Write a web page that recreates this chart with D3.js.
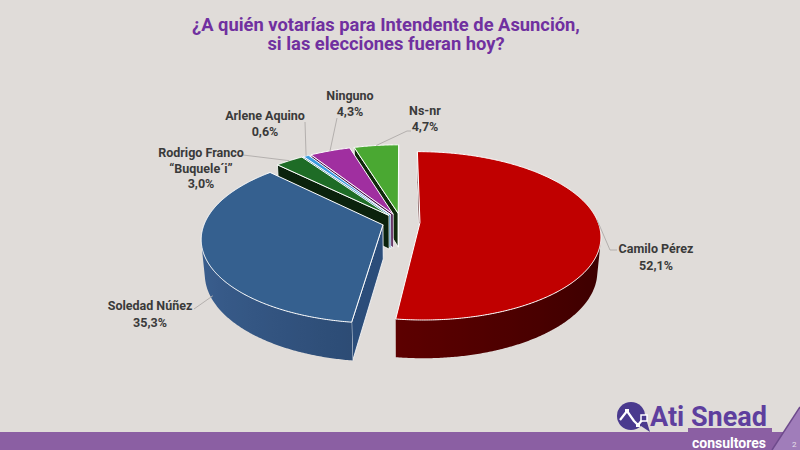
<!DOCTYPE html>
<html><head><meta charset="utf-8">
<script src="https://cdn.jsdelivr.net/npm/d3@7"></script>
<style>html,body{margin:0;padding:0;background:#e0dcd9;}svg{display:block}</style>
</head><body>
<svg id="c" width="800" height="450"></svg>
<script>
// ---------- data ----------
const titleLines = ["¿A quién votarías para Intendente de Asunción,", "si las elecciones fueran hoy?"];
const categories = ["Camilo Pérez", "Soledad Núñez", "Rodrigo Franco “Buquele´i”", "Arlene Aquino", "Ninguno", "Ns-nr"];
const nameLines = [["Camilo Pérez"], ["Soledad Núñez"], ["Rodrigo Franco", "“Buquele´i”"], ["Arlene Aquino"], ["Ninguno"], ["Ns-nr"]];
const values = [52.1, 35.3, 3.0, 0.6, 4.3, 4.7];
const valueLabels = ["52,1%", "35,3%", "3,0%", "0,6%", "4,3%", "4,7%"];
const topColors = ["#c00000", "#35608f", "#1e6c26", "#3c9ce0", "#a02fa0", "#4aa832"];

// ---------- style / layout ----------
const wallLight = ["#760000", "#3a5e8e", "#123a15", "#24679a", "#621c62", "#245a18"];
const wallDark  = ["#3c0000", "#1b3454", "#0a200b", "#174468", "#3e103e", "#143410"];
const faceCol   = ["#3e0000", "#2b4d7a", "#0b220d", "#2878b0", "#4a124a", "#0f2a0a"];
const labelLayout = [
  {x: 656, y: 253, lh: 17, lead: [[610, 250], [617, 250]], shift: -6, depth: 0},
  {x: 150, y: 310, lh: 17, lead: [[194, 309]], shift: -8, depth: 0.85},
  {x: 201, y: 157, lh: 15.5, lead: [[243, 155]], shift: 0, depth: 0},
  {x: 265, y: 120, lh: 16, lead: [[305, 122]], shift: 0, depth: 0},
  {x: 350, y: 100, lh: 15.5, lead: [[337, 118]], shift: 0, depth: 0},
  {x: 425, y: 115, lh: 15.5, lead: [[407, 131], [411, 131]], shift: 0, depth: 0}
];

const W = 800, H = 450;
const svg = d3.select("#c");
const defs = svg.append("defs");
svg.append("rect").attr("width", W).attr("height", H).attr("fill", "#e0dcd9");

// ---------- title ----------
const title = svg.append("g").attr("font-family", "Roboto, 'Open Sans', sans-serif")
  .attr("font-weight", 700).attr("fill", "#7030a0").attr("text-anchor", "middle");
const t1 = title.append("text").attr("x", 386).attr("y", 31).attr("font-size", 16).text(titleLines[0]);
let fs = 16 * 388 / t1.node().getComputedTextLength();
t1.attr("font-size", fs);
title.append("text").attr("x", 386).attr("y", 50).attr("font-size", fs).text(titleLines[1]);

// ---------- 3D pie projection ----------
const cx = 401, cy = 222, R = 178, T = 39, alpha = 27.4 * Math.PI / 180, Dist = 1006, explode = 19;
const sinA = Math.sin(alpha), cosA = Math.cos(alpha);
const camV = Dist * cosA;
function proj(u, v, h) {
  const d = v * cosA + h * sinA;
  const s = Dist / (Dist - d);
  return [cx + u * s, cy + (v * sinA - h * cosA) * s];
}
const arcs = d3.pie().sort(null).value(d => d).startAngle(0).endAngle(2 * Math.PI)(values);
arcs.forEach((a, i) => {
  a.i = i;
  a.mid = (a.startAngle + a.endAngle) / 2;
  a.ou = explode * Math.sin(a.mid);
  a.ov = -explode * Math.cos(a.mid);
  a.depth = a.ov - (R / 2) * Math.cos(a.mid);
});
function pt(a, th, r, h) { return proj(a.ou + r * Math.sin(th), a.ov - r * Math.cos(th), h); }
const line = d3.line();

const pieG = svg.append("g");
const order = arcs.slice().sort((p, q) => p.depth - q.depth);
const step = Math.PI / 360;
order.forEach(a => {
  const g = pieG.append("g");
  const i = a.i;
  // radial faces
  [[a.startAngle, -1], [a.endAngle, 1]].forEach(([th, sgn]) => {
    const nu = sgn * Math.cos(th), nv = sgn * Math.sin(th);
    const vis = nu * (0 - a.ou) + nv * (camV - a.ov);
    if (vis <= 0) return;
    const poly = [pt(a, th, 0, 0), pt(a, th, R, 0), pt(a, th, R, -T), pt(a, th, 0, -T)];
    g.append("path").attr("d", line(poly) + "Z").attr("fill", faceCol[i])
      .attr("stroke", "#ffffff").attr("stroke-width", 0.8).attr("stroke-linejoin", "round");
  });
  // outer wall: runs of front-facing angles, filled with a gradient
  const n = Math.max(2, Math.ceil((a.endAngle - a.startAngle) / step));
  const col = d3.interpolateRgb(wallDark[i], wallLight[i]);
  const isVis = th => {
    const Pu = a.ou + R * Math.sin(th), Pv = a.ov - R * Math.cos(th);
    return Math.sin(th) * (0 - Pu) + (-Math.cos(th)) * (camV - Pv) > 0;
  };
  const runs = [];
  let cur = null;
  for (let k = 0; k <= n; k++) {
    const th = a.startAngle + (a.endAngle - a.startAngle) * k / n;
    if (isVis(th)) { if (!cur) { cur = []; runs.push(cur); } cur.push(th); }
    else cur = null;
  }
  runs.forEach((run, ri) => {
    if (run.length < 2) return;
    const topPts = run.map(th => pt(a, th, R, 0));
    const botPts = run.map(th => pt(a, th, R, -T)).reverse();
    const samples = run.map(th => ({x: pt(a, th, R, 0)[0], c: col(Math.max(0, Math.min(1, 0.5 - 0.5 * Math.sin(th))))}))
      .sort((p, q) => p.x - q.x);
    const x0 = samples[0].x, x1 = samples[samples.length - 1].x;
    const id = "w" + i + "_" + ri;
    const lg = defs.append("linearGradient").attr("id", id).attr("gradientUnits", "userSpaceOnUse")
      .attr("x1", x0).attr("x2", Math.max(x1, x0 + 0.1)).attr("y1", 0).attr("y2", 0);
    samples.filter((s, k) => k % 6 === 0 || k === samples.length - 1).forEach(s => {
      lg.append("stop").attr("offset", (x1 > x0 ? (s.x - x0) / (x1 - x0) : 0)).attr("stop-color", s.c);
    });
    g.append("path").attr("d", line(topPts.concat(botPts)) + "Z").attr("fill", "url(#" + id + ")");
  });
  // top face
  const top = [pt(a, 0, 0, 0)];
  for (let k = 0; k <= n; k++) {
    const th = a.startAngle + (a.endAngle - a.startAngle) * k / n;
    top.push(pt(a, th, R, 0));
  }
  g.append("path").attr("d", line(top) + "Z").attr("fill", topColors[i])
    .attr("stroke", "#ffffff").attr("stroke-width", 1).attr("stroke-linejoin", "round");
});

// ---------- labels ----------
const labG = svg.append("g");
arcs.forEach((a, i) => {
  const L = labelLayout[i];
  const th = a.mid + L.shift * Math.PI / 180;
  const anchor = pt(a, th, R, -L.depth * T);
  const pts = [anchor].concat(L.lead);
  labG.append("path").attr("d", line(pts)).attr("fill", "none").attr("stroke", "#b4b0ae").attr("stroke-width", 1);
  const txt = labG.append("text").attr("text-anchor", "middle")
    .attr("font-family", "Roboto, 'Open Sans', sans-serif").attr("font-weight", 700)
    .attr("font-size", 12.5).attr("fill", "#3a3a3a");
  const lines = nameLines[i].concat([valueLabels[i]]);
  lines.forEach((s, k) => {
    txt.append("tspan").attr("x", L.x).attr("y", L.y + k * L.lh).text(s);
  });
});

// ---------- footer band & logo ----------
const foot = svg.append("g");
foot.append("rect").attr("x", 0).attr("y", 432).attr("width", W).attr("height", 18).attr("fill", "#8b5fa3");
foot.append("rect").attr("x", 688).attr("y", 428).attr("width", 84).attr("height", 6).attr("fill", "#8b5fa3");
foot.append("path").attr("d", "M772,450 L800,407 L800,450 Z").attr("fill", "#a07dba");
foot.append("path").attr("d", "M772,450 L800,407").attr("stroke", "#6e4a8c").attr("stroke-width", 1.5);
foot.append("text").attr("x", 792).attr("y", 447).attr("font-size", 8).attr("fill", "#e6e0ea")
  .attr("font-family", "Roboto, sans-serif").text("2");
// icon
foot.append("path").attr("d", "M638,424 L650,432 L646,419 Z").attr("fill", "#4a3a8e");
foot.append("circle").attr("cx", 631).attr("cy", 416).attr("r", 14).attr("fill", "#4a3a8e");
foot.append("path").attr("d", line([[620, 420], [627, 411], [634, 421], [638, 425], [643, 419]]))
  .attr("fill", "none").attr("stroke", "#ffffff").attr("stroke-width", 2.2).attr("stroke-linejoin", "round");
[[627, 411], [638, 425]].forEach(p => foot.append("rect").attr("x", p[0] - 2).attr("y", p[1] - 2)
  .attr("width", 4).attr("height", 4).attr("fill", "#ffffff"));
foot.append("rect").attr("x", 641).attr("y", 415).attr("width", 6).attr("height", 6)
  .attr("fill", "#4a3a8e").attr("stroke", "#ffffff").attr("stroke-width", 1.5);
foot.append("text").attr("x", 650).attr("y", 426).attr("font-family", "'Liberation Sans Narrow', Roboto, sans-serif")
  .attr("font-weight", 700).attr("font-size", 27).attr("fill", "#5e3f9e")
  .attr("textLength", 117).attr("lengthAdjust", "spacingAndGlyphs").text("Ati Snead");
foot.append("text").attr("x", 692).attr("y", 447.5).attr("font-family", "'Liberation Sans Narrow', Roboto, sans-serif")
  .attr("font-weight", 700).attr("font-size", 14.5).attr("fill", "#ffffff")
  .attr("textLength", 74).attr("lengthAdjust", "spacingAndGlyphs").text("consultores");
</script>
</body></html>
